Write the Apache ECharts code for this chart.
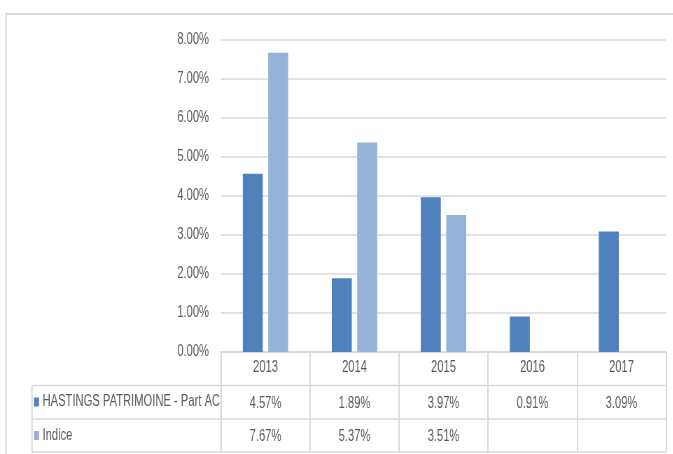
<!DOCTYPE html>
<html>
<head>
<meta charset="utf-8">
<script src="https://cdn.jsdelivr.net/npm/echarts@6/dist/echarts.min.js"></script>
<style>
html,body{margin:0;padding:0;background:#fff;overflow:hidden;width:673px;height:454px}
#c{height:454px;transform-origin:0 0}
</style>
</head>
<body>
<div id="c"></div>
<script>
const categories = ['2013', '2014', '2015', '2016', '2017'];
const fundName = 'HASTINGS PATRIMOINE - Part AC';
const fundValues = [4.57, 1.89, 3.97, 0.91, 3.09];
const indexName = 'Indice';
const indexValues = [7.67, 5.37, 3.51, null, null];
const yMin = 0, yMax = 8, yInterval = 1;

// The reference text is condensed (Calibri-like); the whole chart is laid out
// in a wider box and squeezed horizontally by SX.
const SX = 0.7;
const FONT = '"Liberation Sans", Arial, sans-serif';
const FS = 16;
const TXT = '#595959';
const LINE = '#d9d9d9';
const W = Math.round(673 / SX), H = 454;
const el = document.getElementById('c');
el.style.width = W + 'px';
el.style.transform = 'scaleX(' + SX + ')';
const gridL = 221 / SX, gridR = W - 666 / SX, gridT = 40, gridB = 102;
const axisY = H - gridB;           // 352
const row1Top = axisY + 33.5;
const row2Top = axisY + 67;
const tableBottom = axisY + 100;
const labelLeft = 32 / SX;

const chart = echarts.init(el, null, {renderer: 'canvas', width: W, height: H});
const fmt = v => (v == null ? '' : v.toFixed(2) + '%');

const option = {
  animation: false,
  textStyle: {fontFamily: FONT, color: TXT},
  grid: {left: gridL, right: gridR, top: gridT, bottom: gridB, containLabel: false},
  legend: {
    orient: 'vertical', left: 34 / SX, top: row1Top + 8.5, padding: 0,
    itemWidth: 5 / SX, itemHeight: 9, itemGap: 17.5, icon: 'rect',
    textStyle: {fontFamily: FONT, fontSize: FS, color: TXT, lineHeight: 16},
    data: [fundName, indexName]
  },
  xAxis: {
    type: 'category', data: categories,
    axisLine: {show: true, lineStyle: {color: LINE, width: 1.5}},
    axisTick: {show: true, interval: 0, length: 100, lineStyle: {color: LINE, width: 2}},
    axisLabel: {fontFamily: FONT, fontSize: FS, color: TXT, margin: 8}
  },
  yAxis: {
    type: 'value', min: yMin, max: yMax, interval: yInterval,
    axisLine: {show: false}, axisTick: {show: false},
    axisLabel: {fontFamily: FONT, fontSize: FS, color: TXT, margin: 12 / SX, formatter: v => v.toFixed(2) + '%'},
    splitLine: {lineStyle: {color: LINE, width: 1.5}}
  },
  series: [
    {name: fundName, type: 'bar', data: fundValues, barWidth: 20 / SX, barGap: '27%', itemStyle: {color: '#4F81BD'}},
    {name: indexName, type: 'bar', data: indexValues, barWidth: 20 / SX, itemStyle: {color: '#95B3D7'}}
  ]
};
chart.setOption(option);

const rightX = W - gridR;
const graphics = [
  {type: 'rect', shape: {x: 6 / SX, y: 14, width: W + 20, height: H + 10}, style: {fill: null, stroke: LINE, lineWidth: 2}, silent: true, z: -1},
  {type: 'line', shape: {x1: labelLeft, y1: row1Top, x2: rightX, y2: row1Top}, style: {stroke: LINE, lineWidth: 1.5}},
  {type: 'line', shape: {x1: labelLeft, y1: row2Top, x2: rightX, y2: row2Top}, style: {stroke: LINE, lineWidth: 1.5}},
  {type: 'line', shape: {x1: labelLeft, y1: tableBottom, x2: rightX, y2: tableBottom}, style: {stroke: LINE, lineWidth: 1.5}},
  {type: 'line', shape: {x1: labelLeft, y1: row1Top, x2: labelLeft, y2: tableBottom}, style: {stroke: LINE, lineWidth: 2}}
];
categories.forEach((c, i) => {
  const x = chart.convertToPixel({xAxisIndex: 0}, c);
  [[fundValues[i], (row1Top + row2Top) / 2 + 1], [indexValues[i], (row2Top + tableBottom) / 2 + 1]].forEach(([v, y]) => {
    graphics.push({type: 'text', x: x, y: y, style: {text: fmt(v), fontFamily: FONT, fontSize: FS, fill: TXT, align: 'center', verticalAlign: 'middle'}});
  });
});
chart.setOption({graphic: graphics});
</script>
</body>
</html>
